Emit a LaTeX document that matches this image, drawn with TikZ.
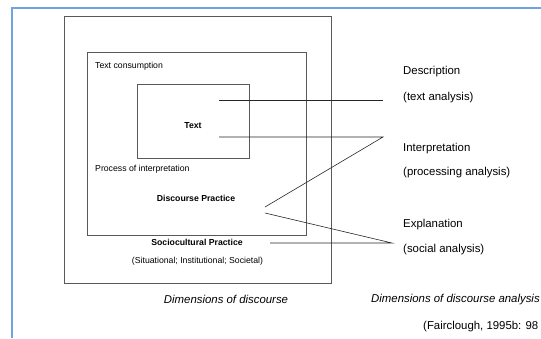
\documentclass[tikz,border=0pt]{standalone}
\usepackage{fontspec}
\setmainfont{Liberation Sans}
\usepackage{tikz}
\usetikzlibrary{positioning}
\definecolor{pageblue}{RGB}{110,165,225}

\begin{document}
\begin{tikzpicture}[x=1pt,y=-1pt,
  box/.style={draw=black!65, line width=0.9pt},
  link/.style={draw=black!85, line width=0.6pt},
  small/.style={font=\fontsize{8.7}{10}\selectfont, inner sep=0pt},
  smallbf/.style={font=\fontsize{8.7}{10}\selectfont\bfseries, inner sep=0pt},
  big/.style={font=\fontsize{11.4}{13}\selectfont, inner sep=0pt, anchor=base west},
  bigit/.style={font=\fontsize{11.4}{13}\selectfont\itshape, inner sep=0pt}]
\useasboundingbox (0,0) rectangle (541,338);
\draw[pageblue, line width=1.5pt] (12,338) -- (12,8) -- (541,8);
% nested boxes
\draw[box] (64,16) rectangle (331,283);
\draw[box] (87,52) rectangle (306,235);
\draw[box] (137,84) rectangle (249,158);
% box labels
\node[small, anchor=base west] (consumption) at (95,68) {Text consumption};
\node[smallbf, anchor=base] (text) at (193,128) {Text};
\node[small, anchor=base west] (process) at (95,171) {Process of interpretation};
\node[smallbf, anchor=base] (discourse) at (196,201) {Discourse Practice};
\node[smallbf, anchor=base] (socio) at (197,245) {Sociocultural Practice};
\node[small, anchor=base] (levels) at (197.5,263) {(Situational; Institutional; Societal)};
% analysis labels
\node[big] (descr) at (403,74) {Description};
\node[big] (descrsub) at (403,100) {(text analysis)};
\node[big] (interp) at (403,151) {Interpretation};
\node[big] (interpsub) at (403,175) {(processing analysis)};
\node[big] (expl) at (403,227) {Explanation};
\node[big] (explsub) at (403,252) {(social analysis)};
% connectors
\coordinate (t1) at (219,100);
\coordinate (t2) at (219,137);
\coordinate (d1) at (265,207);
\coordinate (d2) at (265,213);
\coordinate (s1) at (270,243);
\coordinate (r1) at (383,100);
\coordinate (r2) at (383,137);
\coordinate (r3) at (392,243);
\draw[link] (t1) -- (r1);
\draw[link] (t2) -- (r2) -- (d1);
\draw[link] (d2) -- (r3) -- (s1);
% captions
\node[bigit, anchor=base] (dimleft) at (226,303) {Dimensions of discourse};
\node[bigit, anchor=base west] (dimright) at (371,302.5) {Dimensions of discourse analysis};
\node[big] (source) at (423,329) {(Fairclough, 1995b: 98};
\end{tikzpicture}
\end{document}
